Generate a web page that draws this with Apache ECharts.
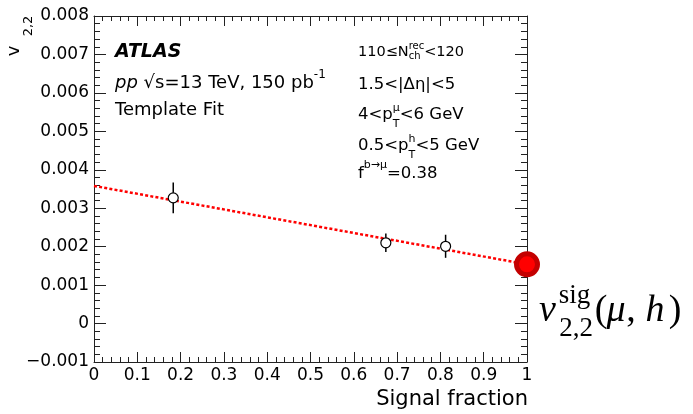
<!DOCTYPE html>
<html>
<head>
<meta charset="utf-8">
<script src="https://cdn.jsdelivr.net/npm/echarts@6/dist/echarts.min.js"></script>
<style>
html,body{margin:0;padding:0;background:#fff;}
#c{width:693px;height:414px;}
</style>
</head>
<body>
<div id="c"></div>
<script>
// ---- data ----
const signalFraction = [0.183, 0.674, 0.812];
const v22 = [0.00327, 0.00210, 0.00201];
const v22Err = [0.00040, 0.00024, 0.00030];
const fitX = [0, 1];
const fitY = [0.00358, 0.00154];
const sigX = [1];
const sigY = [0.00154];
const xTickLabels = ['0','0.1','0.2','0.3','0.4','0.5','0.6','0.7','0.8','0.9','1'];
const yTickLabels = ['\u22120.001','0','0.001','0.002','0.003','0.004','0.005','0.006','0.007','0.008'];

// ---- text layout helpers ----
const mctx = document.createElement('canvas').getContext('2d');
function tw(text, font){ mctx.font = font; return mctx.measureText(text).width; }
function fnt(size, o){ o = o || {}; return (o.italic?'italic ':'') + (o.bold?'bold ':'') + size + 'px ' + (o.family || '"DejaVu Sans"'); }
function txt(x, y, text, font, align, rot){
  const e = {type:'text', x:x, y:y, z:100, silent:true,
    style:{text:text, font:font, fill:'#000', textAlign:align||'left', textVerticalAlign:'middle', align:align||'left', verticalAlign:'middle'}};
  if (rot) e.rotation = rot;
  return e;
}
const G = [];
function flow(x0, y, parts){
  let x = x0;
  parts.forEach(p => {
    if (p.sup !== undefined || p.sub !== undefined){
      let wmax = 0;
      const f = fnt(p.ss || 11, p);
      if (p.sup){ G.push(txt(x, y + (p.supDy !== undefined ? p.supDy : -8), p.sup, f)); wmax = Math.max(wmax, tw(p.sup, f)); }
      if (p.sub){ G.push(txt(x, y + (p.subDy !== undefined ? p.subDy : 9), p.sub, f)); wmax = Math.max(wmax, tw(p.sub, f)); }
      x += wmax;
    } else {
      const f = fnt(p.size || 16, p);
      G.push(txt(x, y + (p.dy || 0), p.t, f));
      x += tw(p.t, f);
    }
  });
}
// left block
flow(115, 52, [{t:'ATLAS', size:19, bold:true, italic:true}]);
flow(115, 83, [{t:'pp', size:18, italic:true}, {t:' \u221As=13 TeV, 150 pb', size:18}, {sup:'-1', ss:12, supDy:-8}]);
flow(115, 110, [{t:'Template Fit', size:18}]);
// right block
flow(358, 52, [{t:'110\u2264N', size:14.5}, {sup:'rec', sub:'ch', ss:10, supDy:-6, subDy:4}, {t:'<120', size:14.5}]);
flow(358, 85, [{t:'1.5<|\u0394\u03B7|<5', size:16.5}]);
flow(358, 115, [{t:'4<p', size:16.5}, {sup:'\u03BC', sub:'T', ss:11, supDy:-7, subDy:9}, {t:'<6 GeV', size:16.5}]);
flow(358, 146, [{t:'0.5<p', size:16.5}, {sup:'h', sub:'T', ss:11, supDy:-7, subDy:9}, {t:'<5 GeV', size:16.5}]);
flow(358, 174, [{t:'f', size:16.5}, {sup:'b\u2192\u03BC', ss:11, supDy:-9}, {t:'=0.38', size:16.5}]);
// axis titles
G.push(txt(528, 400, 'Signal fraction', fnt(21), 'right'));
G.push(txt(14.5, 51, 'v', fnt(18), 'center', Math.PI/2));
G.push(txt(29, 26, '2,2', fnt(13), 'center', Math.PI/2));
// formula v_{2,2}^{sig}(mu,h)
const SER = '"Liberation Serif"';
G.push(txt(547.5, 311, 'v', fnt(38, {italic:true, family:SER}), 'center'));
G.push(txt(574.5, 296, 'sig', fnt(27, {family:SER}), 'center'));
G.push(txt(576, 329, '2,2', fnt(27, {family:SER}), 'center'));
G.push(txt(601, 311, '(', fnt(38, {family:SER}), 'center'));
G.push(txt(616, 311, '\u03BC', fnt(38, {italic:true, family:SER}), 'center'));
G.push(txt(631, 311, ',', fnt(38, {family:SER}), 'center'));
G.push(txt(655, 311, 'h', fnt(38, {italic:true, family:SER}), 'center'));
G.push(txt(675, 311, ')', fnt(38, {family:SER}), 'center'));

// ---- chart ----
const AX = '#222';
function xAx(pos){
  return {type:'value', min:0, max:1, interval:0.1, position:pos,
    axisLine:{show:true, onZero:false, lineStyle:{color:AX, width:1}},
    axisTick:{show:true, inside:true, length:10, lineStyle:{color:AX, width:1}},
    minorTick:{show:true, splitNumber:5, length:5, lineStyle:{color:AX, width:1}},
    splitLine:{show:false}, minorSplitLine:{show:false},
    axisLabel:{show:pos==='bottom', margin:5, color:'#000', fontFamily:'DejaVu Sans', fontSize:17,
      showMinLabel:true, showMaxLabel:true,
      formatter:v => xTickLabels[Math.round(v*10)]}};
}
function yAx(pos){
  return {type:'value', min:-0.001, max:0.008, interval:0.001, position:pos,
    axisLine:{show:true, onZero:false, lineStyle:{color:AX, width:1}},
    axisTick:{show:true, inside:true, length:12, lineStyle:{color:AX, width:1}},
    minorTick:{show:true, splitNumber:5, length:6, lineStyle:{color:AX, width:1}},
    splitLine:{show:false}, minorSplitLine:{show:false},
    axisLabel:{show:pos==='left', margin:5, color:'#000', fontFamily:'DejaVu Sans', fontSize:17,
      showMinLabel:true, showMaxLabel:true,
      formatter:v => yTickLabels[Math.round(v*1000)+1]}};
}
const chart = echarts.init(document.getElementById('c'), null, {renderer:'canvas'});
chart.setOption({
  animation:false,
  backgroundColor:'#fff',
  grid:{left:94, right:166, top:16, bottom:52, containLabel:false, outerBoundsMode:'none'},
  xAxis:[xAx('bottom'), xAx('top')],
  yAxis:[yAx('left'), yAx('right')],
  series:[
    {type:'line', xAxisIndex:0, yAxisIndex:0, data:fitX.map((x,i)=>[x, fitY[i]]), showSymbol:false, symbol:'none',
     lineStyle:{color:'#ff0000', width:2.5, type:[3,2.2], cap:'butt'}, z:2, silent:true},
    {type:'custom', xAxisIndex:0, yAxisIndex:0, data:signalFraction.map((x,i)=>[x, v22[i], v22Err[i]]),
     encode:{x:0, y:1},
     renderItem:(params, api) => {
       const x = api.value(0), y = api.value(1), e = api.value(2);
       const a = api.coord([x, y - e]), b = api.coord([x, y + e]);
       return {type:'line', shape:{x1:a[0], y1:a[1], x2:b[0], y2:b[1]}, style:{stroke:'#000', lineWidth:1.5}};
     }, z:3, silent:true},
    {type:'scatter', xAxisIndex:0, yAxisIndex:0, data:signalFraction.map((x,i)=>[x, v22[i]]), symbol:'circle', symbolSize:10,
     itemStyle:{color:'#fff', borderColor:'#000', borderWidth:1.2, opacity:1}, z:4, silent:true},
    {type:'scatter', xAxisIndex:0, yAxisIndex:0, data:sigX.map((x,i)=>[x, sigY[i]]), symbol:'circle', symbolSize:21, clip:false,
     itemStyle:{color:'#ff0000', borderColor:'#c40000', borderWidth:5, opacity:1}, z:5, silent:true}
  ],
  graphic:G
});
</script>
</body>
</html>
